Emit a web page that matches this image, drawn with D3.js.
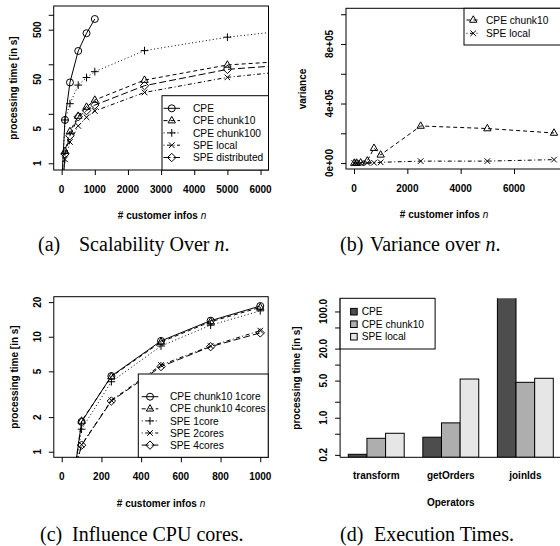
<!DOCTYPE html>
<html lang="en">
<head>
<meta charset="UTF-8">
<title>Scalability figures</title>
<script src="https://d3js.org/d3.v7.min.js"></script>
<style>
body { margin: 0; background: #fff; }
svg text { font-family: "Liberation Sans", Arial, sans-serif; fill: #000; }
.tick-label, .axis-title { font-weight: bold; font-size: 10px; }
.legend-text { font-size: 10.2px; }
.caption { font-family: "Liberation Serif", "Times New Roman", serif; font-size: 20px; }
</style>
</head>
<body>
<div id="chart"></div>
<script>
// (a) processing time [s] over number of customer infos
const sizesA = [10, 100, 250, 500, 750, 1000, 2500, 5000, 7500];
const cpeTime = [0.5, 7.5, 43, 186, 424, 822];
const chunk10Time = [0.15, 1.75, 4.4, 9, 13.7, 19, 48, 97, 124];
const chunk100Time = [0.4, 7.5, 16, 38, 54, 71, 189, 353, 540];
const speLocalTime = [0.13, 1.2, 2.7, 5.7, 8.5, 11.4, 27, 54.5, 81];
const speDistTime = [0.14, 1.55, 3.6, 8.7, 11.6, 15, 37, 79, 105];
const xTicksA = [0, 1000, 2000, 3000, 4000, 5000, 6000];
const yTicksA = [1, 5, 10, 50, 100, 500, 1000];
const yLabelsA = [1, 5, 50, 500];

// (b) variance over n
const sizesB = [10, 100, 250, 500, 750, 1000, 2500, 5000, 7500];
const chunk10Var = [0, 500, 2000, 15000, 100000, 55000, 249000, 232000, 202000];
const speLocalVar = [0, 100, 300, 1000, 2000, 5000, 13000, 13000, 23000];
const xTicksB = [0, 2000, 4000, 6000];
const yTicksB = [0, 200000, 400000, 600000, 800000, 1000000];
const yLabelsB = [0, 400000, 800000];

// (c) influence of CPU cores
const sizesC = [10, 100, 250, 500, 750, 1000];
const cpe1core = [0.14, 1.82, 4.55, 9.2, 13.8, 18.5];
const cpe4cores = [0.14, 1.85, 4.5, 9.0, 13.5, 18.0];
const spe1core = [0.17, 1.57, 4.06, 8.3, 12.6, 16.8];
const spe2cores = [0.3, 1.15, 2.8, 5.67, 8.3, 11.3];
const spe4cores = [0.3, 1.14, 2.76, 5.5, 8.2, 10.8];
const xTicksC = [0, 200, 400, 600, 800, 1000];
const yTicksC = [1, 2, 5, 10, 20];

// (d) execution times per operator
const operators = ["transform", "getOrders", "joinIds"];
const opCPE = [0.205, 0.43, 800];
const opChunk10 = [0.41, 0.8, 4.64];
const opSpeLocal = [0.51, 5.35, 5.53];
const barColors = ["#4D4D4D", "#AEAEAE", "#E6E6E6"];
const barNames = ["CPE", "CPE chunk10", "SPE local"];
const yTicksD = [0.2, 0.5, 1, 2, 5, 10, 20, 50, 100];
const yLabelsD = [0.2, 1, 5, 20, 100];

const dashes = { 1: null, 2: "4,3", 3: "1,2.5", 4: "1,2.5,4,2.5", 5: "7,3" };

const svg = d3.select("#chart").append("svg")
  .attr("width", 560)
  .attr("height", 546);

// R style plotting symbols
function symbol(pch) {
  const s = 3.5;
  if (pch === 1) return `M${s},0A${s},${s} 0 1,1 ${-s},0A${s},${s} 0 1,1 ${s},0Z`;
  if (pch === 2) return `M0,${-s * 1.2}L${s * 1.05},${s * 0.65}L${-s * 1.05},${s * 0.65}Z`;
  if (pch === 3) return `M${-s * 1.1},0H${s * 1.1}M0,${-s * 1.1}V${s * 1.1}`;
  if (pch === 4) return `M${-s * 0.8},${-s * 0.8}L${s * 0.8},${s * 0.8}M${-s * 0.8},${s * 0.8}L${s * 0.8},${-s * 0.8}`;
  return `M0,${-s * 1.2}L${s * 1.2},0L0,${s * 1.2}L${-s * 1.2},0Z`;
}

function leftTicks(g, x, y, ticks, labels, fmt) {
  g.append("g")
    .attr("transform", `translate(${x},0)`)
    .call(d3.axisLeft(y).tickValues(ticks).tickSize(5).tickFormat(""))
    .call(a => a.select(".domain").remove());
  g.selectAll(null).data(labels).enter().append("text")
    .attr("class", "tick-label")
    .attr("transform", d => `translate(${x - 13},${y(d)}) rotate(-90)`)
    .attr("text-anchor", "middle")
    .text(fmt);
}

function bottomTicks(g, x, yPos, ticks) {
  g.append("g")
    .attr("transform", `translate(0,${yPos})`)
    .call(d3.axisBottom(x).tickValues(ticks).tickSize(5).tickFormat(""))
    .call(a => a.select(".domain").remove());
  g.selectAll(null).data(ticks).enter().append("text")
    .attr("class", "tick-label")
    .attr("x", d => x(d))
    .attr("y", yPos + 22.5)
    .attr("text-anchor", "middle")
    .text(d => d);
}

function xTitle(g, cx, yPos) {
  const t = g.append("text").attr("class", "axis-title")
    .attr("x", cx).attr("y", yPos).attr("text-anchor", "middle");
  t.append("tspan").text("# customer infos ");
  t.append("tspan").style("font-style", "italic").style("font-weight", "normal").text("n");
}

function yTitle(g, x, cy, label) {
  g.append("text").attr("class", "axis-title")
    .attr("transform", `translate(${x},${cy}) rotate(-90)`)
    .attr("text-anchor", "middle")
    .text(label);
}

function caption(x1, x2, y, tag, words, withN) {
  svg.append("text").attr("class", "caption").attr("x", x1).attr("y", y).text(tag);
  const t = svg.append("text").attr("class", "caption").attr("x", x2).attr("y", y);
  t.append("tspan").text(words);
  if (withN) {
    t.append("tspan").style("font-style", "italic").text("n");
    t.append("tspan").text(".");
  }
}

function linePanel(id, box, x, y, sizes, series) {
  const g = svg.append("g");
  g.append("clipPath").attr("id", id).append("rect")
    .attr("x", box.x0).attr("y", box.y0)
    .attr("width", box.x1 - box.x0).attr("height", box.y1 - box.y0);
  const plot = g.append("g").attr("clip-path", `url(#${id})`);
  series.forEach(s => {
    const pts = s.values.map((v, i) => [sizes[i], v]);
    plot.append("path")
      .datum(pts)
      .attr("fill", "none")
      .attr("stroke", "#000")
      .attr("stroke-width", 1)
      .attr("stroke-dasharray", dashes[s.lty])
      .attr("d", d3.line().x(d => x(d[0])).y(d => y(d[1])));
    plot.selectAll(null).data(pts).enter().append("path")
      .attr("transform", d => `translate(${x(d[0])},${y(d[1])})`)
      .attr("d", symbol(s.pch))
      .attr("fill", "none")
      .attr("stroke", "#000")
      .attr("stroke-width", 1);
  });
  g.append("rect")
    .attr("x", box.x0).attr("y", box.y0)
    .attr("width", box.x1 - box.x0).attr("height", box.y1 - box.y0)
    .attr("fill", "none").attr("stroke", "#000");
  return g;
}

function lineLegend(g, lb, series) {
  g.append("rect")
    .attr("x", lb.x0).attr("y", lb.y0)
    .attr("width", lb.x1 - lb.x0).attr("height", lb.y1 - lb.y0)
    .attr("fill", "#fff").attr("stroke", "#000");
  series.forEach((s, i) => {
    const cy = lb.first + i * lb.step;
    g.append("line")
      .attr("x1", lb.lx0).attr("x2", lb.lx1).attr("y1", cy).attr("y2", cy)
      .attr("stroke", "#000").attr("stroke-dasharray", dashes[s.lty]);
    g.append("path")
      .attr("transform", `translate(${(lb.lx0 + lb.lx1) / 2},${cy})`)
      .attr("d", symbol(s.pch))
      .attr("fill", "none").attr("stroke", "#000");
    g.append("text").attr("class", "legend-text")
      .attr("x", lb.tx).attr("y", cy + 3.6)
      .text(s.name);
  });
}

// ---- panel (a)
{
  const box = { x0: 53.7, x1: 268.5, y0: 6, y1: 170 };
  const x = d3.scaleLinear().domain([-240, 6240]).range([box.x0, box.x1]);
  const y = d3.scaleLog().domain([0.732, 1506]).range([box.y1, box.y0]);
  const series = [
    { name: "CPE", values: cpeTime, lty: 1, pch: 1 },
    { name: "CPE chunk10", values: chunk10Time, lty: 2, pch: 2 },
    { name: "CPE chunk100", values: chunk100Time, lty: 3, pch: 3 },
    { name: "SPE local", values: speLocalTime, lty: 4, pch: 4 },
    { name: "SPE distributed", values: speDistTime, lty: 5, pch: 5 }
  ];
  const g = linePanel("clipA", box, x, y, sizesA, series);
  lineLegend(g, { x0: 162, x1: box.x1, y0: 95.7, y1: box.y1, first: 108.3, step: 12.3,
    lx0: 163.5, lx1: 180, tx: 193 }, series);
  leftTicks(g, box.x0, y, yTicksA, yLabelsA, d => d);
  bottomTicks(g, x, box.y1, xTicksA);
  xTitle(g, 162, 219);
  yTitle(g, 17, 88, "processing time [in s]");
  caption(38, 79, 251, "(a)", "Scalability Over ", true);
}

// ---- panel (b)
{
  const box = { x0: 346, x1: 562, y0: 8.3, y1: 169 };
  const x = d3.scaleLinear().domain([-300, 7800]).range([box.x0, box.x1]);
  const y = d3.scaleLinear().domain([-40000, 1040000]).range([box.y1, box.y0]);
  const series = [
    { name: "CPE chunk10", values: chunk10Var, lty: 2, pch: 2 },
    { name: "SPE local", values: speLocalVar, lty: 4, pch: 4 }
  ];
  const g = linePanel("clipB", box, x, y, sizesB, series);
  lineLegend(g, { x0: 464, x1: 566, y0: box.y0, y1: 45, first: 20, step: 13.3,
    lx0: 466.5, lx1: 480, tx: 486 }, series);
  leftTicks(g, box.x0, y, yTicksB, yLabelsB, d => d3.format(".0e")(d).replace(/e([+-])(\d)$/, "e$10$2"));
  bottomTicks(g, x, box.y1, xTicksB);
  xTitle(g, 444, 218);
  yTitle(g, 306, 89, "variance");
  caption(340, 370, 251, "(b)", "Variance over ", true);
}

// ---- panel (c)
{
  const box = { x0: 53.8, x1: 268.2, y0: 296.7, y1: 457.3 };
  const x = d3.scaleLinear().domain([-40, 1040]).range([box.x0, box.x1]);
  const y = d3.scaleLog().domain([0.894, 22.3]).range([box.y1, box.y0]);
  const series = [
    { name: "CPE chunk10 1core", values: cpe1core, lty: 1, pch: 1 },
    { name: "CPE chunk10 4cores", values: cpe4cores, lty: 2, pch: 2 },
    { name: "SPE 1core", values: spe1core, lty: 3, pch: 3 },
    { name: "SPE 2cores", values: spe2cores, lty: 4, pch: 4 },
    { name: "SPE 4cores", values: spe4cores, lty: 5, pch: 5 }
  ];
  const g = linePanel("clipC", box, x, y, sizesC, series);
  lineLegend(g, { x0: 138.3, x1: box.x1, y0: 374, y1: box.y1, first: 396.7, step: 12.1,
    lx0: 141.7, lx1: 158.3, tx: 170 }, series);
  leftTicks(g, box.x0, y, yTicksC, yTicksC, d => d);
  bottomTicks(g, x, box.y1, xTicksC);
  xTitle(g, 161, 507);
  yTitle(g, 18, 377, "processing time [in s]");
  caption(40, 72, 541, "(c)", "Influence CPU cores.", false);
}

// ---- panel (d)
{
  const box = { x0: 340.1, x1: 561.5, y0: 298.3, y1: 457.3 };
  const x = d3.scaleLinear().domain([0.56, 12.44]).range([box.x0, box.x1]);
  const y = d3.scaleLog().domain([0.18, 177]).range([box.y1, box.y0]);
  const g = svg.append("g");
  g.append("clipPath").attr("id", "clipD").append("rect")
    .attr("x", box.x0).attr("y", box.y0)
    .attr("width", box.x1 - box.x0).attr("height", box.y1 - box.y0);
  const groups = [opCPE, opChunk10, opSpeLocal];
  const bars = [];
  operators.forEach((op, o) => {
    groups.forEach((vals, k) => bars.push({ op: o, k: k, v: vals[o] }));
  });
  g.append("g").attr("clip-path", "url(#clipD)")
    .selectAll("rect").data(bars).enter().append("rect")
    .attr("x", d => x(1 + d.op * 4 + d.k))
    .attr("width", x(2) - x(1))
    .attr("y", d => y(d.v))
    .attr("height", d => box.y1 - y(d.v))
    .attr("fill", d => barColors[d.k])
    .attr("stroke", "#000")
    .attr("stroke-width", 1);
  g.append("path")
    .attr("d", `M${box.x0},${box.y0}V${box.y1}H${box.x1 + 5}`)
    .attr("fill", "none").attr("stroke", "#000");
  leftTicks(g, box.x0, y, yTicksD, yLabelsD, d => d3.format(".1f")(d));
  g.selectAll(null).data(operators).enter().append("text")
    .attr("class", "tick-label")
    .attr("x", (d, i) => x(2.5 + i * 4))
    .attr("y", 479)
    .attr("text-anchor", "middle")
    .text(d => d);
  g.append("text").attr("class", "axis-title")
    .attr("x", (box.x0 + box.x1) / 2).attr("y", 506)
    .attr("text-anchor", "middle").text("Operators");
  yTitle(g, 300, 378, "processing time [in s]");
  // legend
  g.append("rect")
    .attr("x", box.x0).attr("y", box.y0)
    .attr("width", 95).attr("height", 50.7)
    .attr("fill", "#fff").attr("stroke", "#000");
  barNames.forEach((name, i) => {
    const cy = 311.7 + i * 12.5;
    g.append("rect")
      .attr("x", 350.6).attr("y", cy - 3.3).attr("width", 6.6).attr("height", 6.6)
      .attr("fill", barColors[i]).attr("stroke", "#000");
    g.append("text").attr("class", "legend-text")
      .attr("x", 361.7).attr("y", cy + 3.6).text(name);
  });
  caption(340, 374, 541, "(d)", "Execution Times.", false);
}
</script>
</body>
</html>
